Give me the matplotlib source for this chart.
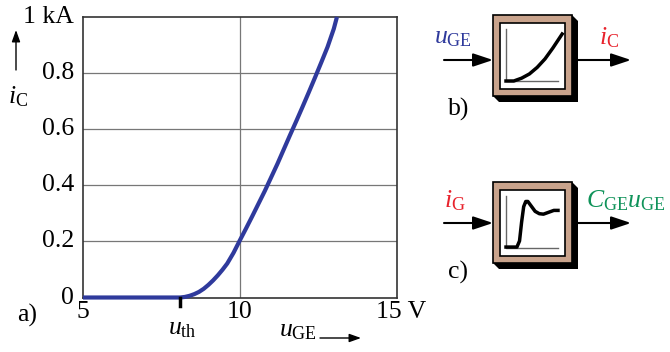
import numpy as np
import matplotlib
matplotlib.use("Agg")
import matplotlib.pyplot as plt
from matplotlib.patches import Rectangle, Polygon, FancyArrowPatch

plt.rcParams['font.family'] = ['Liberation Serif', 'DejaVu Serif']
plt.rcParams['mathtext.fontset'] = 'custom'
plt.rcParams['mathtext.rm'] = 'Liberation Serif'
plt.rcParams['mathtext.it'] = 'Liberation Serif:italic'

# Übertragungskennlinie iC(uGE)
u_ge = [5.0, 8.1, 8.25, 8.4, 8.55, 8.7, 8.85, 9.0, 9.15, 9.3, 9.45, 9.6, 9.8, 10.0, 10.2,
        10.4, 10.6, 10.8, 11.0, 11.2, 11.4, 11.6, 11.8, 12.0, 12.2, 12.4, 12.6, 12.8, 13.0, 13.1]
i_c = [0.0, 0.0, 0.002, 0.006, 0.012, 0.02, 0.031, 0.045, 0.061, 0.079, 0.099, 0.121, 0.159, 0.203, 0.246,
       0.29, 0.335, 0.38, 0.428, 0.476, 0.527, 0.578, 0.628, 0.679, 0.731, 0.784, 0.838, 0.893, 0.958, 1.0]
u_th = 8.1

x_ticks = [5, 10, 15]
x_labels = ['5', '10', '15 V']
y_ticks = [0, 0.2, 0.4, 0.6, 0.8, 1.0]
y_labels = ['0', '0.2', '0.4', '0.6', '0.8', '1 kA']

# Symbolkurven in den Blöcken (x normiert auf Achsenlänge, y auf Höhe)
sym_b_x = [0.0, 0.15, 0.3, 0.45, 0.6, 0.75, 0.9, 1.08]
sym_b_y = [0.0, 0.0, 0.06, 0.15, 0.29, 0.47, 0.7, 1.0]
sym_c_x = [0.0, 0.21, 0.26, 0.3, 0.34, 0.38, 0.42, 0.48, 0.56, 0.64, 0.72, 0.82, 0.92, 1.0]
sym_c_y = [0.02, 0.02, 0.15, 0.55, 0.88, 0.99, 0.99, 0.9, 0.78, 0.73, 0.72, 0.76, 0.8, 0.8]

blau = '#2f3a9c'
rot = '#e8222c'
gruen = '#10935a'
braun = '#c9a38c'

fig = plt.figure(figsize=(6.7, 3.52), dpi=100)

W, H = 670, 352
x0, x1, y0, y1 = 83, 396.5, 17, 297.5
ax = fig.add_axes([x0 / W, (H - y1) / H, (x1 - x0) / W, (y1 - y0) / H])
ax.plot(u_ge, i_c, color=blau, lw=3, solid_capstyle='butt', clip_on=False, zorder=5)
ax.set_xlim(5, 15)
ax.set_ylim(0, 1)
ax.set_xticks([10])
ax.set_yticks([0.2, 0.4, 0.6, 0.8])
ax.grid(True, color='#777777', lw=0.9)
ax.tick_params(length=0, labelbottom=False, labelleft=False)
for s in ax.spines.values():
    s.set_color('#333333')
    s.set_linewidth(1.2)

# Overlay in Pixelkoordinaten für Beschriftungen und Blockbilder
ov = fig.add_axes([0, 0, 1, 1])
ov.set_xlim(0, W)
ov.set_ylim(H, 0)
ov.axis('off')

fs = 18.5
def px(u):
    return x0 + (u - 5) / 10 * (x1 - x0)
def py(i):
    return y1 - i * (y1 - y0)

for v, lab in zip(x_ticks, x_labels):
    if lab.endswith('V'):
        ov.text(px(v) - 20, 301, lab, ha='left', va='top', fontsize=fs)
    else:
        ov.text(px(v), 301, lab, ha='center', va='top', fontsize=fs)
for v, lab in zip(y_ticks, y_labels):
    ov.text(74, py(v), lab, ha='right', va='center', fontsize=fs)

ov.plot([px(u_th), px(u_th)], [y1, y1 + 8], color='black', lw=2.5)
ov.text(px(u_th) + 2, 318, r'$u_\mathrm{th}$', ha='center', va='top', fontsize=fs)
ov.text(279, 331, r'$u_\mathrm{GE}$', ha='left', va='center', fontsize=fs)
ov.add_patch(FancyArrowPatch((320, 338), (361, 338), arrowstyle='-|>,head_length=7,head_width=2.5',
                             color='black', lw=1, mutation_scale=1, shrinkA=0, shrinkB=0))
ov.add_patch(FancyArrowPatch((16, 70), (16, 30), arrowstyle='-|>,head_length=7,head_width=2.5',
                             color='black', lw=1, mutation_scale=1, shrinkA=0, shrinkB=0))
ov.text(8, 97, r'$i_\mathrm{C}$', ha='left', va='center', fontsize=fs)
ov.text(17, 315, 'a)', ha='left', va='center', fontsize=fs)


def block(by, ay, xs, ys, lab_in, x_in, col_in, lab_out, x_out, col_out, tag):
    bx, w, h, d = 493, 79, 81, 6
    # Schatten mit abgeschrägten Ecken
    ov.add_patch(Polygon([(bx + w, by), (bx + w + d, by + d), (bx + w + d, by + h + d),
                          (bx + d, by + h + d), (bx, by + h)], closed=True,
                         facecolor='black', edgecolor='none'))
    ov.add_patch(Rectangle((bx, by), w, h, facecolor=braun, edgecolor='black', lw=1.2))
    ov.add_patch(Rectangle((bx + 7, by + 8), w - 14, h - 15, facecolor='white', edgecolor='black', lw=1.2))
    gx0, gy0 = bx + 13, by + 66
    gw, gh = 52, 47
    ov.plot([gx0, gx0, gx0 + gw], [gy0 - 52, gy0, gy0], color='#666666', lw=1)
    ov.plot([gx0 + gw * v for v in xs], [gy0 - gh * v for v in ys], color='black', lw=2.5)
    ov.add_patch(FancyArrowPatch((444, ay), (bx, ay), arrowstyle='-|>,head_length=12,head_width=4',
                                 color='black', lw=1.5, mutation_scale=1, shrinkA=0, shrinkB=0))
    ov.add_patch(FancyArrowPatch((bx + w + d, ay), (631, ay), arrowstyle='-|>,head_length=12,head_width=4',
                                 color='black', lw=1.5, mutation_scale=1, shrinkA=0, shrinkB=0))
    ov.text(x_in, ay - 22, lab_in, color=col_in, ha='left', va='center', fontsize=fs)
    ov.text(x_out, ay - 22, lab_out, color=col_out, ha='left', va='center', fontsize=fs)
    ov.text(448, ay + 49, tag, ha='left', va='center', fontsize=fs)


block(15, 60, sym_b_x, sym_b_y, r'$u_\mathrm{GE}$', 434, blau, r'$i_\mathrm{C}$', 599, rot, 'b)')
block(182, 223, sym_c_x, sym_c_y, r'$i_\mathrm{G}$', 444, rot, r'$C_\mathrm{GE}u_\mathrm{GE}$', 586, gruen, 'c)')

fig.savefig('out.png', dpi=100)
